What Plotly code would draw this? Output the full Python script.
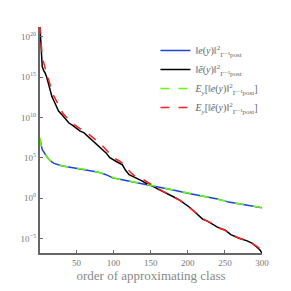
import plotly.graph_objects as go

x_black = [1, 2, 3, 4, 6, 8, 10, 12, 14, 17, 20, 23, 26, 30, 35, 40, 45, 50, 55, 60, 65, 70, 77, 85, 90, 95, 100, 105, 112, 116, 121, 126, 130, 137, 145, 150, 160, 172, 180, 189, 195, 202, 208, 214, 220, 227, 234, 240, 245, 251, 258, 264, 270, 280, 287, 292, 297, 300]
y_black = [1.6e21, 3e19, 3e17, 2e16, 6e15, 3e15, 1e15, 1.6e14, 3e13, 4e12, 1e12, 3e11, 6e10, 2.5e10, 6e9, 2e9, 1e9, 4e8, 2e8, 1.3e8, 5e7, 2e7, 6e6, 1e6, 4e5, 1e5, 6e4, 3e4, 1.3e4, 3e3, 8e2, 5e2, 3e2, 1.6e2, 6e1, 4e1, 1.3e1, 4, 1.6, 0.56, 0.25, 0.08, 0.025, 0.008, 2.5e-3, 1.3e-3, 5e-4, 2.5e-4, 1.6e-4, 1e-4, 3e-5, 1.6e-5, 1e-5, 5e-6, 2.5e-6, 1e-6, 4e-7, 1.6e-7]

x_red = [1, 2, 3, 5, 7, 9, 11, 13, 16, 19, 22, 25, 28, 32, 37, 42, 47, 52, 57, 62, 67, 73, 80, 87, 92, 97, 102, 108, 114, 118, 123, 128, 133, 140, 147, 155, 165, 175, 185, 192, 198, 205, 211, 217, 223, 230, 237, 243, 248, 254, 261, 267, 274, 283, 290, 295, 300]
y_red = [3e21, 1e20, 4e18, 1.5e17, 2e16, 5e15, 1.5e15, 3e14, 4e13, 6e12, 1.6e12, 5e11, 1.2e11, 3e10, 1e10, 3e9, 1.3e9, 6e8, 3e8, 1.5e8, 8e7, 3e7, 8e6, 2e6, 6e5, 2e5, 8e4, 4e4, 1.5e4, 5e3, 1.5e3, 6e2, 4e2, 2e2, 8e1, 3e1, 8, 2.5, 0.9, 0.4, 0.15, 0.05, 0.015, 5e-3, 2e-3, 1e-3, 4e-4, 2e-4, 1.3e-4, 6e-5, 2.5e-5, 1.3e-5, 8e-6, 4e-6, 1.6e-6, 8e-7, 2e-7]

x_blue = [1, 2, 4, 7, 10, 15, 20, 30, 40, 50, 60, 70, 80, 90, 99, 110, 120, 130, 140, 150, 160, 172, 185, 200, 212, 225, 240, 255, 270, 285, 300]
y_blue = [2e7, 5e6, 1e6, 4e5, 1.3e5, 4e4, 2e4, 1e4, 7e3, 5e3, 4e3, 2.5e3, 1.6e3, 8e2, 3.2e2, 2e2, 1.3e2, 9e1, 6e1, 4e1, 2.8e1, 1.6e1, 8, 4, 2.5, 1.4, 0.8, 0.32, 0.2, 0.11, 0.063]

x_green = [1, 3, 5, 8, 12, 17, 25, 35, 45, 55, 65, 75, 85, 95, 105, 115, 125, 135, 145, 155, 165, 178, 192, 206, 218, 232, 247, 262, 278, 292, 300]
y_green = [3e7, 2e6, 7e5, 3e5, 8e4, 3e4, 1.4e4, 8e3, 6e3, 4.5e3, 3.2e3, 2e3, 1.2e3, 5e2, 2.5e2, 1.6e2, 1.1e2, 7e1, 5e1, 3.4e1, 2.2e1, 1.2e1, 6, 3.2, 2, 1.1, 0.5, 0.25, 0.16, 0.09, 0.065]

tick_vals = [1e-5, 1, 1e5, 1e10, 1e15, 1e20]
tick_text = ["10<sup>−5</sup>", "10<sup>0</sup>", "10<sup>5</sup>", "10<sup>10</sup>", "10<sup>15</sup>", "10<sup>20</sup>"]
x_ticks = [50, 100, 150, 200, 250, 300]

names = [
    "‖<i>e</i>(<i>y</i>)‖<sup>2</sup><sub>Γ⁻¹post</sub>",
    "‖<i>ẽ</i>(<i>y</i>)‖<sup>2</sup><sub>Γ⁻¹post</sub>",
    "<i>E<sub>y</sub></i>[‖<i>e</i>(<i>y</i>)‖<sup>2</sup><sub>Γ⁻¹post</sub>]",
    "<i>E<sub>y</sub></i>[‖<i>ẽ</i>(<i>y</i>)‖<sup>2</sup><sub>Γ⁻¹post</sub>]",
]

fig = go.Figure()
fig.add_trace(go.Scatter(x=x_blue, y=y_blue, mode="lines", name=names[0], line=dict(color="#2040e0", width=1.5)))
fig.add_trace(go.Scatter(x=x_black, y=y_black, mode="lines", name=names[1], line=dict(color="#000000", width=1.5)))
fig.add_trace(go.Scatter(x=x_green, y=y_green, mode="lines", name=names[2], line=dict(color="#66ff00", width=1.5, dash="dash")))
fig.add_trace(go.Scatter(x=x_red, y=y_red, mode="lines", name=names[3], line=dict(color="#ff2020", width=1.5, dash="dash")))

fig.update_layout(
    width=283, height=283,
    margin=dict(l=30, r=29, t=19, b=38),
    paper_bgcolor="white", plot_bgcolor="white",
    font=dict(family="Liberation Serif, DejaVu Serif, serif", color="#777777", size=9),
    showlegend=True,
    legend=dict(x=0.52, y=0.96, xanchor="left", yanchor="top", bgcolor="rgba(0,0,0,0)",
                font=dict(size=10, color="#666666"), itemwidth=30, tracegroupgap=0),
    xaxis=dict(range=[1, 300], tickvals=x_ticks, ticks="inside", ticklen=3, tickcolor="#666666",
               showline=True, linecolor="#666666", linewidth=2, showgrid=False, zeroline=False,
               tickfont=dict(size=9, color="#777777"),
               title=dict(text="order of approximating class", font=dict(size=13, color="#888888"), standoff=2)),
    yaxis=dict(type="log", range=[-6.8, 21.2], tickvals=tick_vals, ticktext=tick_text, ticks="inside",
               ticklen=3, tickcolor="#666666", showline=True, linecolor="#666666", linewidth=2,
               showgrid=False, zeroline=False, tickfont=dict(size=9, color="#777777")),
)

fig.write_html("out.html")
